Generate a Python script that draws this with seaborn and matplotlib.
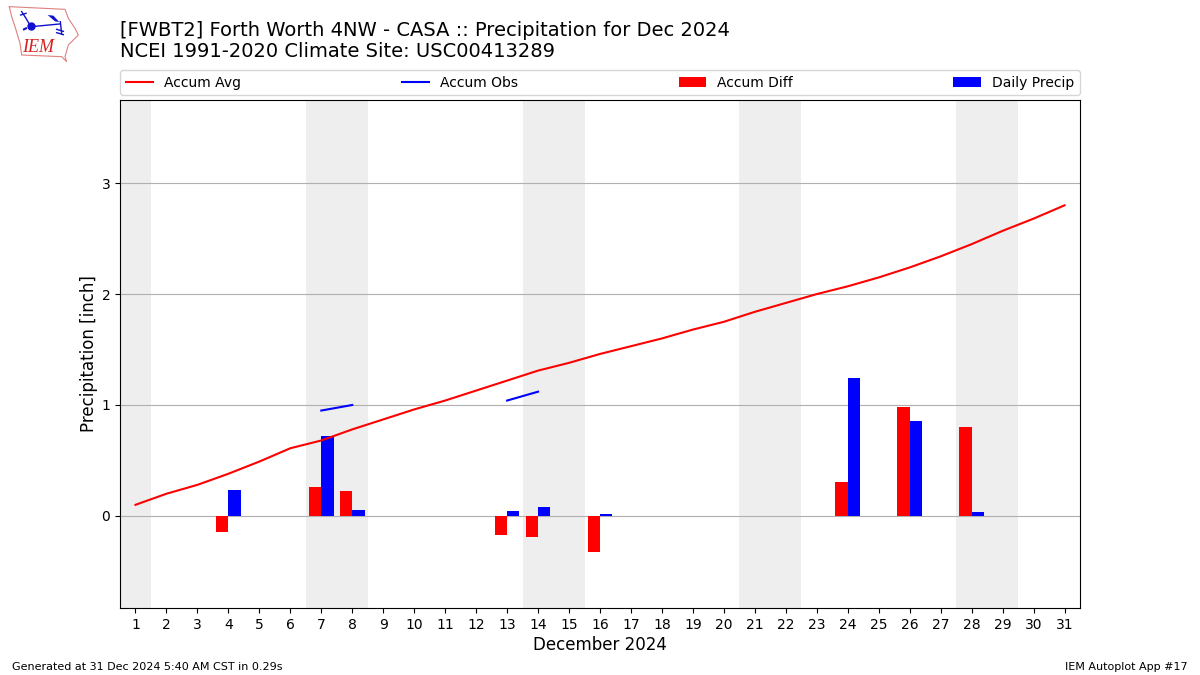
import pandas as pd
import matplotlib
matplotlib.use("Agg")
import matplotlib.pyplot as plt
import seaborn as sns
import numpy as np

days = list(range(1, 32))
accum_avg = [0.10, 0.20, 0.28, 0.38, 0.49, 0.61, 0.68, 0.78, 0.87, 0.96, 1.04,
             1.13, 1.22, 1.31, 1.38, 1.46, 1.53, 1.60, 1.68, 1.75, 1.84, 1.92,
             2.00, 2.07, 2.15, 2.24, 2.34, 2.45, 2.57, 2.68, 2.80]

obs_days_a = [7, 8]
obs_vals_a = [0.95, 1.00]
obs_days_b = [13, 14]
obs_vals_b = [1.04, 1.12]

bar_days = [4, 7, 8, 13, 14, 16, 24, 26, 28]
accum_diff = [-0.144, 0.26, 0.225, -0.17, -0.19, -0.324, 0.306, 0.98, 0.80]
daily_precip = [0.234, 0.72, 0.054, 0.045, 0.08, 0.018, 1.243, 0.856, 0.036]

weekends = [(0.5, 1.5), (6.5, 8.5), (13.5, 15.5), (20.5, 22.5), (27.5, 29.5)]

fig = plt.figure(figsize=(12, 6.75), dpi=100)
ax = fig.add_axes([0.1, 0.0993, 0.8, 0.7526])

for start, end in weekends:
    ax.axvspan(start, end, color="#eeeeee", lw=0, zorder=0)

sns.lineplot(x=days, y=accum_avg, color="red", lw=1.5, label="Accum Avg", ax=ax)
sns.lineplot(x=obs_days_a, y=obs_vals_a, color="blue", lw=1.5, label="Accum Obs", ax=ax)
sns.lineplot(x=obs_days_b, y=obs_vals_b, color="blue", lw=1.5, legend=False, ax=ax)

bars = pd.DataFrame({
    "day": bar_days * 2,
    "value": accum_diff + daily_precip,
    "series": ["Accum Diff"] * len(bar_days) + ["Daily Precip"] * len(bar_days),
})
sns.barplot(data=bars, x="day", y="value", hue="series", native_scale=True,
            width=0.8, gap=0, errorbar=None, saturation=1,
            palette={"Accum Diff": "red", "Daily Precip": "blue"},
            linewidth=0, ax=ax)

ax.set_xlim(0.5, 31.5)
ax.set_ylim(-0.83, 3.75)
ax.set_xticks(days)
ax.set_xticklabels([str(d) for d in days])
ax.set_yticks(np.arange(0, 4))
ax.set_axisbelow(True)
ax.grid(True, axis="y", color="#b0b0b0", lw=0.8)
ax.set_xlabel("December 2024", fontsize=12, labelpad=3.2)
ax.set_ylabel("Precipitation [inch]", fontsize=12, labelpad=2.5)

handles, labels = ax.get_legend_handles_labels()
lookup = dict(zip(labels, handles))
order = ["Accum Avg", "Accum Obs", "Accum Diff", "Daily Precip"]
ax.legend([lookup[k] for k in order], order, loc="lower left", ncol=4, mode="expand",
          bbox_to_anchor=(0, 1.0095, 1, 0.05), borderaxespad=0, fontsize=10)

fig.text(0.1, 0.9097, "[FWBT2] Forth Worth 4NW - CASA :: Precipitation for Dec 2024\n"
         "NCEI 1991-2020 Climate Site: USC00413289", fontsize=14, ha="left", va="bottom",
         linespacing=1.1)
fig.text(0.01, 0.007, "Generated at 31 Dec 2024 5:40 AM CST in 0.29s", fontsize=8)
fig.text(0.99, 0.007, "IEM Autoplot App #17", fontsize=8, ha="right")

# logo, drawn in the zoomed pixel coords of the corner
logo = fig.add_axes([0, 1 - 70 / 675, 130 / 1200, 70 / 675])
logo.set_xlim(0, 390)
logo.set_ylim(210, 0)
logo.axis("off")
logo.plot([28, 195, 205, 225, 235, 215, 205, 195, 200, 185, 65, 60, 45, 35, 28],
          [20, 28, 55, 85, 105, 125, 135, 170, 185, 170, 165, 130, 80, 50, 20],
          color="#e08080", lw=0.8)
logo.plot([95, 178], [80, 72], color="#1010d0", lw=1)
logo.plot([181, 185], [65, 102], color="#1010d0", lw=1)
logo.plot([65, 78, 88], [35, 55, 72], color="#1010d0", lw=1)
logo.plot([62, 78], [45, 40], color="#1010d0", lw=1)
logo.fill([143, 160, 178, 165], [45, 47, 66, 64], color="#1010d0", lw=0)
logo.plot([94], [78], "o", color="#1010d0", ms=5)
logo.plot([170, 190], [88, 94], color="#1010d0", lw=1)
logo.plot([170, 190], [98, 104], color="#1010d0", lw=1)
logo.plot([72, 78], [88, 85], color="#1010d0", lw=1.5)
logo.text(66, 155, "IEM", color="#d62020", fontsize=13, family="Liberation Serif",
          style="italic", ha="left", va="baseline")

plt.savefig("out.png", dpi=100)
